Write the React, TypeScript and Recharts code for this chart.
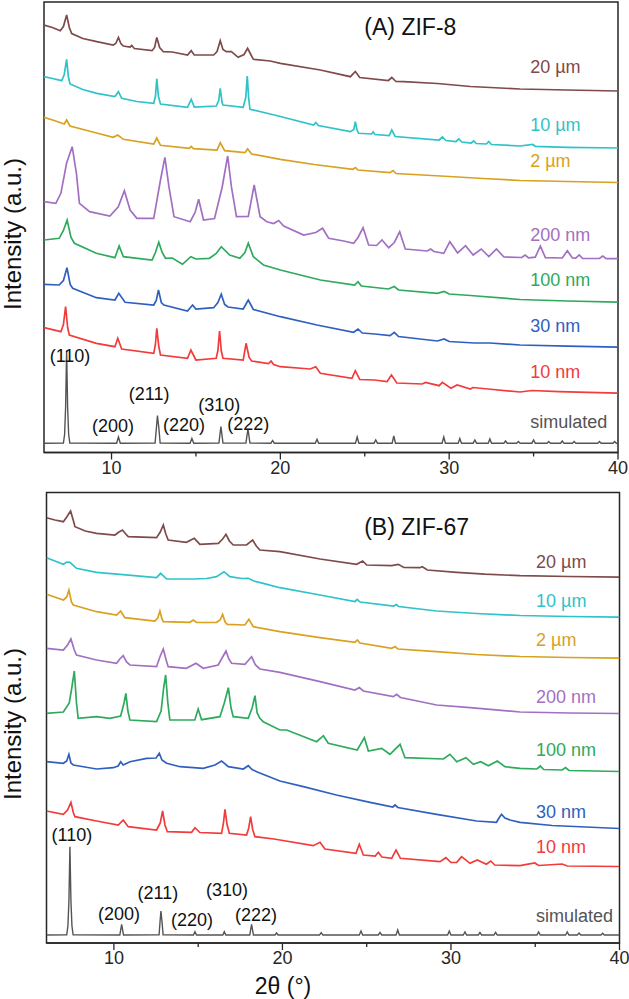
import React from 'react';
import { LineChart, Line, XAxis, YAxis, ReferenceArea, ReferenceDot } from 'recharts';

/**
 * XRD patterns of ZIF-8 and ZIF-67 crystals of different sizes.
 */

type Pt = [number, number];

// ---------- (A) ZIF-8 ----------
const zif8_20um: Pt[] = [
  [6.0, 427.5], [6.5, 425], [6.96, 421.8], [7.15, 426], [7.34, 437.5], [7.5, 425], [7.64, 419],
  [8.3, 414], [9.13, 410.8], [10.1, 407.5], [10.25, 409], [10.41, 415], [10.55, 409], [10.7, 406.5],
  [11.1, 405.5], [11.2, 407], [11.35, 404], [12.4, 401.8], [12.55, 405], [12.68, 415], [12.85, 405],
  [13.07, 400.8], [13.6, 400.5], [14.5, 397.5], [14.72, 401.8], [14.9, 397.5], [16.05, 397.5],
  [16.25, 401], [16.44, 411.8], [16.6, 403], [16.8, 400.8], [17.1, 401], [17.5, 395.2], [17.85, 398],
  [18.06, 404.2], [18.25, 398], [18.4, 393.2], [19.4, 391.5], [20, 389.2], [22.37, 382.5],
  [24.15, 375.8], [24.44, 381], [24.7, 375], [26.4, 372], [26.6, 375], [26.85, 371], [27.3, 370.8],
  [29.3, 369], [31.26, 366], [34.2, 363.5], [37, 362.5], [40, 361.5],
];
const zif8_10um: Pt[] = [
  [6.0, 375.8], [6.5, 374], [7.05, 371.8], [7.2, 378], [7.34, 393.2], [7.45, 375], [7.54, 368.5],
  [8.3, 363], [9.13, 359.2], [10.2, 356], [10.41, 360.8], [10.6, 354.2], [11.5, 351], [12.5, 349.2],
  [12.6, 356], [12.68, 373.8], [12.78, 356], [12.9, 348.5], [14.5, 345.2], [14.72, 353.2],
  [14.9, 345.5], [16.2, 346.5], [16.35, 352], [16.44, 364.2], [16.55, 350], [16.6, 347.5],
  [17.8, 345.2], [17.95, 355], [18.04, 376.5], [18.12, 355], [18.2, 343.2], [19.4, 338.5], [20, 336],
  [21.97, 327.5], [22.1, 330], [22.25, 327], [24.15, 320.8], [24.35, 323], [24.44, 330.8],
  [24.55, 322], [24.64, 319.2], [25.4, 318.5], [25.5, 320.5], [25.6, 318], [26.45, 317],
  [26.6, 322.5], [26.8, 316], [29.4, 312.5], [29.6, 315.5], [29.8, 312], [30.4, 311], [30.57, 313.5],
  [30.75, 310.5], [31.3, 309.5], [31.45, 311.5], [31.6, 309], [32.2, 308.5], [32.35, 311],
  [32.5, 308], [34.2, 306.5], [34.95, 308], [35.1, 306.2], [37, 305.2], [40, 304.5],
];
const zif8_2um: Pt[] = [
  [6.0, 335.2], [6.6, 332], [7.2, 328.5], [7.34, 332.5], [7.54, 326.5], [9, 320], [10.1, 315.2],
  [10.37, 317.5], [10.7, 313.2], [12.5, 308.5], [12.68, 314.5], [12.9, 307.2], [14.6, 304.2],
  [14.72, 306], [14.85, 303.8], [16.25, 302.5], [16.44, 309.8], [16.7, 301.8], [17.9, 299.8],
  [18.06, 303.5], [18.3, 298.5], [20, 293.2], [22, 288], [24.3, 283.2], [24.45, 285], [24.6, 282.5],
  [26.5, 279.8], [26.68, 282], [26.85, 279], [29.5, 276.5], [32, 274], [34.2, 272], [37, 271],
  [40, 270],
];
const zif8_200nm: Pt[] = [
  [6.0, 250.8], [6.7, 249.2], [7.0, 259.2], [7.34, 289.5], [7.67, 305.8], [7.92, 279.2], [8.1, 249.2],
  [8.7, 240.8], [9.9, 236.5], [10.4, 245.8], [10.76, 261.8], [11.1, 242.5], [11.5, 234.2],
  [12.5, 234.2], [12.9, 272.5], [13.16, 295.2], [13.4, 265.8], [13.7, 235.8], [14.66, 230.8],
  [14.95, 240], [15.16, 253.2], [15.45, 232.5], [16.1, 234], [16.55, 265], [16.88, 296.5],
  [17.1, 265.8], [17.4, 235.8], [18.1, 236], [18.45, 267.5], [18.8, 235.8], [19.2, 230.8],
  [19.6, 229], [19.9, 232], [20.2, 226.5], [21.38, 217.5], [22.1, 220], [22.5, 224.2], [22.86, 214.2],
  [23.75, 211.5], [24.34, 209.2], [24.6, 215], [24.9, 224.8], [25.23, 207.5], [25.7, 207],
  [26.02, 212.5], [26.42, 204.8], [26.75, 210], [27.07, 220.8], [27.4, 203.5], [28.7, 201.5],
  [28.9, 203.5], [29.1, 201], [29.68, 199.2], [30.04, 210.8], [30.5, 199.5], [30.97, 206.8],
  [31.42, 197.5], [31.9, 203.5], [32.35, 196], [32.8, 203.5], [33.24, 195.5], [34.3, 195],
  [34.5, 197.5], [34.7, 194.7], [35.1, 195.3], [35.4, 206.5], [35.7, 194.8], [36.7, 194.5], [37.0, 201.8],
  [37.3, 194.5], [37.5, 194.3], [37.7, 197.5], [37.9, 194.2], [38.9, 194], [39.1, 196.5],
  [39.3, 193.8], [40, 193.8],
];
const zif8_100nm: Pt[] = [
  [6.0, 212.5], [6.9, 214.2], [7.15, 222], [7.37, 232.5], [7.6, 215], [7.8, 209.2], [9.1, 199.2],
  [10.2, 194.8], [10.45, 206.5], [10.7, 195.8], [12.4, 192.5], [12.6, 200], [12.8, 210.2], [13.0, 200],
  [13.2, 194.2], [13.6, 194.5], [14.2, 188.2], [14.7, 195.8], [15.0, 193.5], [15.8, 194.2],
  [16.2, 199], [16.5, 205.8], [17.0, 197.5], [17.6, 194.2], [17.9, 200], [18.1, 209.2],
  [18.4, 195.8], [19.0, 187.5], [20, 182.5], [22.37, 172.5], [24.4, 167.5], [24.6, 170.8],
  [24.8, 166.5], [26.4, 163.5], [26.75, 166], [27, 162.5], [29.3, 159.2], [29.7, 161], [30, 158.5],
  [31.26, 157], [34.2, 153], [37, 151.5], [40, 150.3],
];
const zif8_30nm: Pt[] = [
  [6.0, 168.2], [6.9, 167.5], [7.15, 172], [7.36, 184.8], [7.55, 168], [7.7, 164.2], [9.1, 154.8],
  [10.2, 152.5], [10.43, 159.2], [10.8, 150.2], [12.5, 147.5], [12.65, 152], [12.78, 162.5],
  [12.95, 150], [13.1, 147.5], [14.5, 141.5], [14.8, 147.5], [15.0, 143.5], [16.05, 144.8],
  [16.3, 150], [16.5, 158.2], [16.7, 148], [16.9, 145.5], [17.8, 143.5], [18.1, 152.5], [18.4, 143],
  [20, 135.8], [22.17, 127.5], [24.34, 120.2], [24.6, 123.5], [24.85, 119.5], [25.6, 118.5],
  [26.5, 116.8], [26.75, 120.2], [27, 116], [29.3, 111.5], [29.7, 113.5], [30, 111], [31.5, 109.5],
  [32.4, 109.5], [34.2, 107.5], [37, 106.3], [40, 105.3],
];
const zif8_10nm: Pt[] = [
  [6.0, 124.8], [7.0, 120.8], [7.15, 128], [7.28, 145.8], [7.4, 125], [7.5, 117.5], [9.1, 109.2],
  [10.2, 105.8], [10.37, 114.2], [10.6, 103.5], [12.5, 99.2], [12.6, 108], [12.68, 124.2],
  [12.8, 106], [12.9, 97.5], [14.5, 94.2], [14.7, 102.5], [15.0, 92.5], [16.2, 94.2], [16.3, 102],
  [16.4, 121.5], [16.5, 102], [16.6, 94.2], [17.8, 92.5], [17.97, 109.2], [18.15, 95], [18.3, 91.5],
  [19.3, 89], [19.45, 91.5], [19.6, 88], [20, 85.8], [21.77, 83.5], [22.1, 85.8], [22.37, 79.2],
  [24.24, 74.2], [24.44, 81.8], [24.7, 73], [25.57, 72.5], [26.32, 70.8], [26.58, 77.5],
  [26.9, 69.5], [28.4, 68.5], [28.6, 70], [29.4, 66.8], [29.6, 70.2], [30.1, 64.2], [30.47, 67.5],
  [31.26, 63.5], [31.4, 65], [32.3, 63.5], [34.2, 60.5], [34.9, 62], [36.5, 60.8], [40, 59.3],
];
const zif8_sim: Pt[] = [
  [6.0, 9.3], [7.15, 9.5], [7.22, 18], [7.28, 45], [7.34, 102], [7.4, 45], [7.46, 18], [7.53, 9.5],
  [10.3, 9.3], [10.41, 15.5], [10.52, 9.3], [12.58, 9.5], [12.66, 25], [12.72, 37], [12.8, 25],
  [12.88, 9.5], [14.65, 9.3], [14.76, 14], [14.87, 9.3], [16.36, 9.4], [16.48, 26], [16.6, 9.4],
  [17.96, 9.4], [18.08, 23.5], [18.2, 9.4], [19.44, 9.3], [19.54, 12], [19.64, 9.3], [22.07, 9.3],
  [22.17, 13.2], [22.27, 9.3], [24.45, 9.3], [24.55, 15.5], [24.65, 9.3], [25.55, 9.3], [25.65, 12.5],
  [25.75, 9.3], [26.62, 9.3], [26.72, 16.5], [26.82, 9.3], [29.58, 9.3], [29.68, 15.5], [29.78, 9.3],
  [30.53, 9.3], [30.63, 14], [30.73, 9.3], [31.42, 9.3], [31.52, 12.5], [31.62, 9.3], [32.31, 9.3],
  [32.41, 13.5], [32.51, 9.3], [33.24, 9.3], [33.34, 11.5], [33.44, 9.3], [34.0, 9.3], [34.1, 11],
  [34.2, 9.3], [34.9, 9.3], [35.0, 12.5], [35.1, 9.3], [35.8, 9.3], [35.9, 11], [36.0, 9.3],
  [36.6, 9.3], [36.7, 11.5], [36.8, 9.3], [37.3, 9.3], [37.4, 11], [37.5, 9.3], [38.8, 9.3],
  [38.9, 11], [39.0, 9.3], [39.7, 9.3], [39.8, 11], [39.9, 9.3], [40, 9.3],
];

// ---------- (B) ZIF-67 ----------
const zif67_20um: Pt[] = [
  [6.0, 425.3], [6.5, 423], [7.0, 421.3], [7.2, 426], [7.43, 432], [7.6, 422], [7.69, 416.3],
  [8.3, 412], [8.97, 409.7], [10.06, 408], [10.3, 411], [10.51, 413], [10.7, 409], [10.85, 406.3],
  [12.53, 405.3], [12.75, 411], [12.93, 418], [13.08, 409], [13.22, 403], [14.3, 400.7],
  [14.77, 404.7], [15.1, 398.7], [16.2, 399.7], [16.45, 404], [16.65, 408.7], [16.85, 402],
  [17.08, 398], [17.87, 398], [18.23, 403], [18.45, 397], [18.66, 393], [19.85, 391.3],
  [22.23, 384], [24.4, 378.7], [24.76, 382], [25.0, 378], [26.48, 377.3], [26.88, 378.7],
  [27.2, 375.5], [28.16, 375.3], [28.3, 376.3], [28.6, 373], [30.34, 370.7], [32, 368.8],
  [34.1, 367.3], [37, 366.5], [40, 365.8],
];
const zif67_10um: Pt[] = [
  [6.0, 385.3], [7.0, 378.7], [7.2, 381], [7.39, 380.7], [7.78, 374.7], [8.97, 370.7],
  [10.36, 368.7], [12.53, 365.3], [12.77, 369.7], [13.13, 364], [14.71, 364], [15.5, 364.5],
  [16.09, 366.3], [16.53, 371.3], [16.88, 366.3], [17.6, 364.5], [17.97, 364.7], [18.3, 362],
  [18.86, 359.7], [19.85, 355.3], [22.23, 348], [24.3, 341.5], [24.44, 343.5], [24.6, 341],
  [26.6, 337], [26.75, 338.5], [26.9, 336.5], [29.15, 332], [31.5, 329.5], [34.1, 327.5], [37, 326.5],
  [40, 325.8],
];
const zif67_2um: Pt[] = [
  [6.0, 348.7], [7.0, 343], [7.2, 346], [7.33, 353], [7.48, 341], [7.59, 338], [8.97, 331.3],
  [10.16, 328], [10.4, 332], [10.65, 325.3], [12.43, 322], [12.6, 325], [12.73, 332], [12.85, 324],
  [12.93, 321.3], [14.51, 320.7], [14.71, 323], [14.9, 320.5], [16.09, 320.7], [16.3, 323],
  [16.45, 328.7], [16.6, 321], [16.73, 318.7], [17.77, 318], [18.01, 323.7], [18.27, 316.3],
  [19.85, 311.3], [22.23, 305.3], [24.3, 300.7], [24.44, 303], [24.6, 300], [26.48, 294.7],
  [26.68, 296.5], [26.85, 294], [29.15, 291.3], [31.5, 288.5], [34.1, 286.5], [37, 285.5], [40, 284.8],
];
const zif67_200nm: Pt[] = [
  [6.0, 294.7], [7.0, 293], [7.25, 298], [7.45, 304], [7.65, 293], [7.78, 288], [8.97, 283],
  [10.16, 279.7], [10.35, 284], [10.55, 287.3], [10.75, 281], [10.95, 278], [12.53, 276.3],
  [12.75, 287], [12.93, 294], [13.1, 283], [13.22, 276.3], [14.3, 274.7], [14.87, 279.7],
  [15.3, 274.7], [16.19, 278], [16.45, 286], [16.65, 292], [16.82, 284], [16.98, 279.7],
  [17.77, 278.7], [18.0, 283], [18.17, 286.3], [18.4, 278], [18.66, 274], [19.85, 270.7],
  [22.23, 261.3], [24.3, 253], [24.56, 255.5], [24.8, 252], [26.58, 246.3], [26.78, 248.7],
  [27, 245.5], [29.15, 238], [31.13, 235.3], [34.1, 231], [37, 230], [40, 229.5],
];
const zif67_100nm: Pt[] = [
  [6.0, 229.7], [7.0, 231], [7.35, 240], [7.5, 255], [7.65, 272], [7.78, 240], [7.88, 224.7],
  [8.97, 226.3], [9.76, 224.7], [10.4, 227], [10.6, 240], [10.71, 249.7], [10.83, 232],
  [10.95, 223], [12.53, 221.3], [12.8, 232], [12.95, 255], [13.07, 268], [13.2, 240], [13.32, 223],
  [14.8, 223], [15.0, 234], [15.2, 223.3], [16.29, 226.3], [16.55, 240], [16.79, 255.3],
  [16.95, 235], [17.08, 226.3], [17.97, 224.7], [18.2, 235], [18.37, 247.3], [18.5, 230],
  [18.66, 224.7], [18.86, 221.3], [19.85, 213], [20.25, 213], [22.03, 201.3], [22.43, 207.3],
  [22.72, 199.7], [24.44, 193], [24.86, 205.3], [25.1, 192], [25.89, 194.7], [26.38, 188.7],
  [26.98, 198.7], [27.27, 185.3], [29.55, 184], [29.94, 188.7], [30.34, 181.3], [30.89, 185.3],
  [31.33, 178.7], [31.76, 181.3], [32.22, 177.3], [32.75, 182], [33.2, 176.3], [34.1, 174.7],
  [35.1, 174], [35.3, 177], [35.5, 173.5], [36.6, 173], [36.8, 175.5], [37, 172.5], [40, 171.5],
];
const zif67_30nm: Pt[] = [
  [6.0, 181.3], [7.0, 179.7], [7.2, 182], [7.33, 188.7], [7.45, 180], [7.59, 178], [8.97, 174],
  [9.96, 175.3], [10.25, 177], [10.4, 181.3], [10.55, 178], [10.95, 181.3], [11.94, 184.7],
  [12.5, 185], [12.69, 189.7], [12.85, 183], [13.13, 179.7], [13.92, 176.3], [15.3, 174.7],
  [16.0, 178], [16.39, 182], [16.79, 176.3], [17.68, 174], [17.97, 177.3], [18.2, 173.5],
  [18.47, 171.3], [19.85, 162], [21.24, 156.3], [23.2, 148], [25.2, 140.7], [26.55, 136],
  [26.68, 138], [26.85, 135.5], [29.15, 128.7], [31.52, 122], [32.7, 120.7], [32.85, 125],
  [33.0, 128.7], [33.2, 125], [33.5, 123], [34.1, 120.7], [36, 117.5], [40, 114.5],
];
const zif67_10nm: Pt[] = [
  [6.0, 132], [7.0, 128.7], [7.25, 133], [7.45, 140.7], [7.6, 130], [7.69, 126.3], [8.97, 122],
  [10.26, 118], [10.55, 123], [10.85, 116.3], [12.53, 113], [12.75, 120], [12.89, 132],
  [13.03, 118], [13.17, 111.3], [14.61, 110.7], [14.81, 115.3], [15.1, 110.5], [16.39, 109.7],
  [16.5, 120], [16.59, 133.7], [16.72, 118], [16.85, 109.7], [17.87, 108], [18.0, 115],
  [18.11, 126.3], [18.24, 113], [18.37, 106.3], [19.5, 104], [19.85, 103], [21.83, 97.3],
  [22.23, 100.7], [22.52, 94], [24.36, 89.7], [24.56, 98.7], [24.8, 88], [25.5, 87], [25.69, 90.7],
  [25.9, 86], [26.48, 84.7], [26.74, 93], [27.0, 84.7], [29.35, 81.3], [29.7, 85.3], [30.0, 80.5],
  [30.34, 80.7], [30.63, 86.3], [31.13, 79.7], [31.56, 83], [32.1, 78.7], [32.36, 82], [32.6, 78],
  [34.1, 77.3], [34.97, 80], [35.2, 77.5], [36.6, 79], [36.9, 77], [40, 76.5],
];
const zif67_sim: Pt[] = [
  [6.0, 8], [7.2, 8.2], [7.27, 17], [7.33, 42], [7.39, 96.3], [7.45, 42], [7.51, 17], [7.58, 8.2],
  [10.35, 8], [10.46, 18.7], [10.57, 8], [12.68, 8.2], [12.74, 22], [12.79, 32], [12.85, 22],
  [12.92, 8.2], [14.72, 8], [14.81, 11.3], [14.9, 8], [16.46, 8], [16.55, 11.3], [16.64, 8],
  [18.06, 8], [18.17, 18.7], [18.28, 8], [19.56, 8], [19.65, 10], [19.74, 8], [22.2, 8], [22.3, 10.3],
  [22.4, 8], [24.56, 8], [24.66, 12], [24.76, 8], [25.69, 8], [25.79, 10.5], [25.89, 8], [26.74, 8],
  [26.84, 13], [26.94, 8], [29.8, 8], [29.9, 12], [30.0, 8], [30.73, 8], [30.83, 11], [30.93, 8],
  [31.62, 8], [31.72, 10.5], [31.82, 8], [32.55, 8], [32.65, 10.7], [32.75, 8], [35.1, 8], [35.2, 11],
  [35.3, 8], [36.8, 8], [36.9, 11], [37.0, 8], [37.5, 8], [37.6, 10], [37.7, 8], [38.9, 8],
  [39.0, 9.8], [39.1, 8], [40, 8],
];

const SIZE_LABELS = ['20 µm', '10 µm', '2 µm', '200 nm', '100 nm', '30 nm', '10 nm', 'simulated'];
const COLORS = ['#7e4a4a', '#2ec3c8', '#d8a11f', '#a270c2', '#2eaa5c', '#2f60c0', '#f23b3b', '#545454'];
const HKL = ['(110)', '(200)', '(211)', '(220)', '(310)', '(222)'];

const zif8Series = [zif8_20um, zif8_10um, zif8_2um, zif8_200nm, zif8_100nm, zif8_30nm, zif8_10nm, zif8_sim];
const zif67Series = [zif67_20um, zif67_10um, zif67_2um, zif67_200nm, zif67_100nm, zif67_30nm, zif67_10nm, zif67_sim];

// label anchors, in plot coordinates
const zif8LabelY = [385.5, 327.5, 291.5, 217.5, 172.5, 126.5, 80.5, 30.5];
const zif67LabelY = [381, 342.5, 303, 246, 193, 131, 96, 27];
const zif8Hkl: Pt[] = [[7.54, 96.5], [10.09, 26.5], [12.23, 58.5], [14.3, 27.5], [16.38, 47.5], [18.1, 28.5]];
const zif67Hkl: Pt[] = [[7.51, 108], [10.3, 29], [12.61, 50], [14.63, 23], [16.71, 53], [18.43, 28]];

const X_TICKS = [10, 15, 20, 25, 30, 35, 40];
const Y_TOP = 450.5;
const FONT = '"Liberation Sans", Arial, sans-serif';
const INK = '#262626';

function XTick({ x, y, payload }: any) {
  const major = payload.value % 10 === 0;
  return (
    <g>
      <line x1={x} x2={x} y1={y} y2={y + (major ? 7 : 4)} stroke={INK} strokeWidth={1.3} />
      {major && (
        <text x={x} y={y + 15} textAnchor="middle" dominantBaseline="central" fontSize={18} fill={INK} fontFamily={FONT}>
          {payload.value}
        </text>
      )}
    </g>
  );
}

interface PanelProps {
  series: Pt[][];
  labelX: number;
  labelY: number[];
  hkl: Pt[];
  title: string;
  titlePos: Pt;
  top: number;
  height: number;
  margin: { top: number; right: number; left: number; bottom: number };
  axisHeight: number;
}

function Panel({ series, labelX, labelY, hkl, title, titlePos, top, height, margin, axisHeight }: PanelProps) {
  return (
    <div style={{ position: 'absolute', left: 0, top }}>
      <LineChart width={629} height={height} margin={margin}>
        <XAxis
          dataKey="x"
          type="number"
          domain={[6, 40]}
          allowDataOverflow
          ticks={X_TICKS}
          interval={0}
          height={axisHeight}
          axisLine={{ stroke: INK, strokeWidth: 1.5 }}
          tickLine={false}
          tickSize={0}
          tickMargin={0}
          tick={<XTick />}
        />
        <YAxis type="number" domain={[0, Y_TOP]} allowDataOverflow hide width={0} />
        <ReferenceArea x1={6} x2={40} y1={0} y2={Y_TOP} fill="none" stroke={INK} strokeWidth={1.5} />
        {series.map((pts, i) => (
          <Line
            key={SIZE_LABELS[i]}
            data={pts.map(([x, y]) => ({ x, y }))}
            dataKey="y"
            type="linear"
            stroke={COLORS[i]}
            strokeWidth={i === 7 ? 1.4 : 1.7}
            dot={false}
            activeDot={false}
            isAnimationActive={false}
          />
        ))}
        {SIZE_LABELS.map((name, i) => (
          <ReferenceDot
            key={`lab-${name}`}
            x={labelX}
            y={labelY[i]}
            r={0}
            fill="none"
            stroke="none"
            label={{ value: name, position: 'right', offset: 0, fill: COLORS[i], fontSize: 18, fontFamily: FONT }}
          />
        ))}
        {HKL.map((h, i) => (
          <ReferenceDot
            key={`hkl-${h}`}
            x={hkl[i][0]}
            y={hkl[i][1]}
            r={0}
            fill="none"
            stroke="none"
            label={{ value: h, position: 'center', fill: '#111', fontSize: 18, fontFamily: FONT }}
          />
        ))}
        <ReferenceDot
          x={titlePos[0]}
          y={titlePos[1]}
          r={0}
          fill="none"
          stroke="none"
          label={{ value: title, position: 'center', fill: '#111', fontSize: 23, fontFamily: FONT }}
        />
      </LineChart>
    </div>
  );
}

export default function App() {
  return (
    <div style={{ position: 'absolute', left: 0, top: 0, width: 629, height: 999, background: '#fff', fontFamily: FONT }}>
      <Panel
        series={zif8Series}
        labelX={34.8}
        labelY={zif8LabelY}
        hkl={zif8Hkl}
        title="(A) ZIF-8"
        titlePos={[27.7, 425.5]}
        top={0}
        height={490}
        margin={{ top: 2, right: 11, left: 44, bottom: 0 }}
        axisHeight={37.5}
      />
      <Panel
        series={zif67Series}
        labelX={35.05}
        labelY={zif67LabelY}
        hkl={zif67Hkl}
        title="(B) ZIF-67"
        titlePos={[27.96, 416.3]}
        top={490}
        height={509}
        margin={{ top: 2.5, right: 9.5, left: 46.5, bottom: 0 }}
        axisHeight={56}
      />
      <svg width={629} height={999} style={{ position: 'absolute', left: 0, top: 0, pointerEvents: 'none' }}>
        <text x={12} y={234} transform="rotate(-90 12 234)" textAnchor="middle" dominantBaseline="central" fontSize={24} fill="#111" fontFamily={FONT}>
          Intensity (a.u.)
        </text>
        <text x={12} y={724} transform="rotate(-90 12 724)" textAnchor="middle" dominantBaseline="central" fontSize={24} fill="#111" fontFamily={FONT}>
          Intensity (a.u.)
        </text>
        <text x={283} y={986} textAnchor="middle" dominantBaseline="central" fontSize={23} fill="#111" fontFamily={FONT}>
          2θ (°)
        </text>
      </svg>
    </div>
  );
}
